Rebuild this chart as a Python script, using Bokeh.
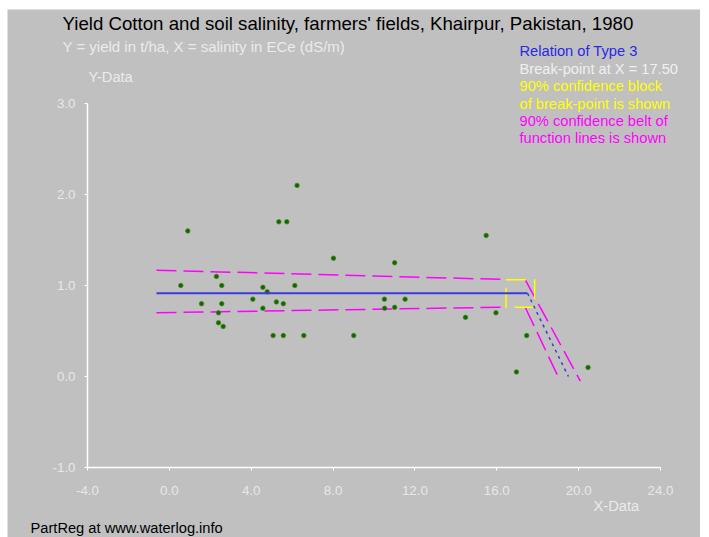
from bokeh.plotting import figure
from bokeh.models import Label, Range1d, FixedTicker
from bokeh.embed import file_html
from bokeh.resources import INLINE

# ---- data ----
obs_x = [0.56, 0.90, 1.57, 2.30, 2.40, 2.40, 2.56, 2.56, 2.63, 4.08, 4.57, 4.57, 4.78,
         5.07, 5.23, 5.35, 5.57, 5.57, 5.74, 6.13, 6.24, 6.57, 8.02, 9.01, 10.51, 10.52,
         11.01, 11.01, 11.52, 14.47, 15.48, 15.96, 16.96, 17.46, 20.46]
obs_y = [1.00, 1.60, 0.80, 1.10, 0.70, 0.59, 1.00, 0.80, 0.55, 0.85, 0.98, 0.75, 0.93,
         0.45, 0.82, 1.70, 0.80, 0.45, 1.70, 1.00, 2.10, 0.45, 1.30, 0.45, 0.85, 0.75,
         1.25, 0.76, 0.85, 0.65, 1.55, 0.70, 0.05, 0.45, 0.10]

flat_x = [-0.63, 17.5]
flat_y = [0.915, 0.915]
slope_x = [17.5, 19.5]
slope_y = [0.915, 0.0]

belt_up_x = [-0.63, 16.42]
belt_up_y = [1.168, 1.066]
belt_lo_x = [-0.63, 16.42]
belt_lo_y = [0.70, 0.762]
belt_up_slope_x = [17.4, 20.08]
belt_up_slope_y = [1.06, -0.05]
belt_lo_slope_x = [17.4, 19.10]
belt_lo_slope_y = [0.755, -0.05]

block_x = [16.45, 17.85]
block_y = [0.762, 1.063]

x_ticks = [-4, 0, 4, 8, 12, 16, 20, 24]
y_ticks = [-1, 0, 1, 2, 3]
x_axis_span = (-4, 24)
y_axis_span = (-1, 3)

BG = "#C0C0C0"
FONT = "Liberation Sans"
TXT = "14.67px"

# ---- layout (page pixels); the frame fills the whole canvas ----
CL, CT = 7, 9            # canvas left / top on the page
W, H = 693, 528          # canvas size
AX_L, AX_R = 87, 660     # page x of x = -4 and x = 24
AX_T, AX_B = 103, 467    # page y of y = 3 and y = -1
fl, fr = CL, CL + W
ft, fb = CT, CT + H
xs = (x_axis_span[1] - x_axis_span[0]) / (AX_R - AX_L)
ys = (y_axis_span[1] - y_axis_span[0]) / (AX_B - AX_T)
x_range = Range1d(x_axis_span[0] - (AX_L - fl) * xs, x_axis_span[1] + (fr - AX_R) * xs)
y_range = Range1d(y_axis_span[0] - (fb - AX_B) * ys, y_axis_span[1] + (AX_T - ft) * ys)

p = figure(width=W, height=H, output_backend="svg", toolbar_location=None,
           x_range=x_range, y_range=y_range,
           min_border_left=0, min_border_right=0, min_border_top=0, min_border_bottom=0)
p.margin = (CT, 0, 0, CL)
p.background_fill_color = BG
p.border_fill_color = BG
p.outline_line_color = None
p.xgrid.visible = False
p.ygrid.visible = False

for ax in (p.xaxis[0], p.yaxis[0]):
    ax.axis_line_color = "white"
    ax.axis_line_width = 1.5
    ax.major_tick_line_color = "white"
    ax.major_tick_out = 3
    ax.major_tick_in = 0
    ax.minor_tick_line_color = None
    ax.major_label_text_color = "#E8E8E8"
    ax.major_label_text_font = FONT
    ax.major_label_text_font_size = "13.33px"
p.xaxis[0].ticker = FixedTicker(ticks=x_ticks)
p.yaxis[0].ticker = FixedTicker(ticks=y_ticks)
p.xaxis[0].bounds = x_axis_span
p.yaxis[0].bounds = y_axis_span
p.xaxis[0].fixed_location = y_axis_span[0]
p.yaxis[0].fixed_location = x_axis_span[0]
p.xaxis[0].major_label_overrides = {t: f"{t:.1f}" for t in x_ticks}
p.yaxis[0].major_label_overrides = {t: f"{t:.1f}" for t in y_ticks}
p.xaxis[0].major_label_standoff = 15
p.yaxis[0].major_label_standoff = 9

# confidence belt
mag = "#FF00FF"
p.line(belt_up_x, belt_up_y, line_color=mag, line_width=1.5, line_dash="20 7")
p.line(belt_lo_x, belt_lo_y, line_color=mag, line_width=1.5, line_dash="20 7")
p.line(belt_up_slope_x, belt_up_slope_y, line_color=mag, line_width=1.5, line_dash="20 7")
p.line(belt_lo_slope_x, belt_lo_slope_y, line_color=mag, line_width=1.5, line_dash="20 7")

# confidence block of break-point
bx = [block_x[0], block_x[1], block_x[1], block_x[0], block_x[0]]
by = [block_y[1], block_y[1], block_y[0], block_y[0], block_y[1]]
p.line(bx, by, line_color="#FFFF00", line_width=1.5, line_dash="20 8")

# data points
p.scatter(obs_x, obs_y, size=4.5, fill_color="#007000", line_color="#5A7A20", line_width=0.8)

# regression lines
p.line(flat_x, flat_y, line_color="#3A3AE0", line_width=2)
p.line(slope_x, slope_y, line_color="#3A3AE0", line_width=1.5, line_dash="3 4")


def lab(text, x, y, color, size=TXT):
    p.add_layout(Label(x=x - CL, y=y - CT, x_units="canvas", y_units="canvas", text=text,
                       text_color=color, text_font=FONT, text_font_size=size,
                       text_baseline="middle", text_align="left"))

lab("Yield Cotton and soil salinity, farmers' fields, Khairpur, Pakistan, 1980", 62, 23, "black", "18.67px")
lab("Y = yield in t/ha, X = salinity in ECe (dS/m)", 62, 46, "#EBEBEB", "15px")
lab("Y-Data", 88, 76, "#EBEBEB")
lab("Relation of Type 3", 519, 50, "#2828E8")
lab("Break-point at X = 17.50", 519, 68, "#F0F0F0")
lab("90% confidence block", 519, 85, "#FFFF00")
lab("of break-point is shown", 519, 103, "#FFFF00")
lab("90% confidence belt of", 519, 120, "#FF00FF")
lab("function lines is shown", 519, 137, "#FF00FF")
lab("X-Data", 593, 505, "#EBEBEB")
lab("PartReg at www.waterlog.info", 30, 527, "black")

open("out.html", "w").write(file_html(p, INLINE))
